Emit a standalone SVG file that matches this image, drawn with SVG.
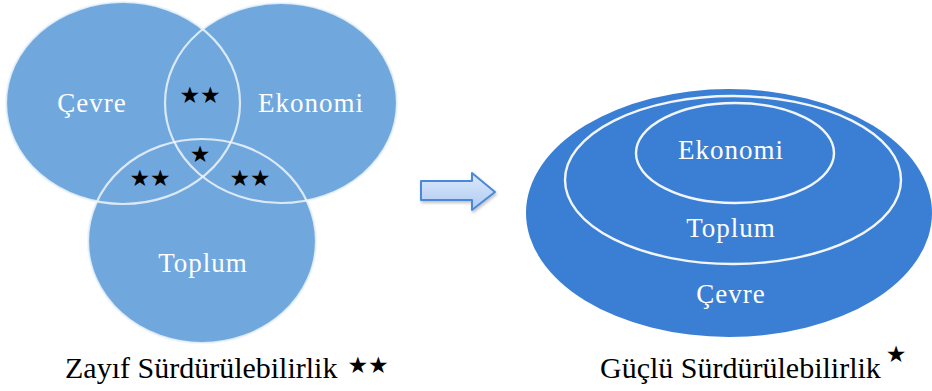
<svg xmlns="http://www.w3.org/2000/svg" width="932" height="391" viewBox="0 0 932 391">
  <defs>
    <linearGradient id="arrowFill" x1="0" y1="0" x2="0" y2="1">
      <stop offset="0" stop-color="#dce8fb"/>
      <stop offset="1" stop-color="#aecbf2"/>
    </linearGradient>
    <filter id="soft" x="-10%" y="-10%" width="120%" height="120%">
      <feGaussianBlur stdDeviation="0.6"/>
    </filter>
    <filter id="shadow" x="-20%" y="-20%" width="140%" height="160%">
      <feDropShadow dx="1" dy="2" stdDeviation="1.5" flood-color="#000" flood-opacity="0.25"/>
    </filter>
  </defs>
  <style>
    .venn { fill: #6fa8dd; }
    .ring { fill: none; stroke: #eef4fb; stroke-width: 2.2; stroke-opacity: 0.85; }
    .nest { fill: #3a7fd5; }
    .nestRing { fill: none; stroke: #f2f6fc; stroke-width: 2.4; }
    .lbl { font-family: "Liberation Serif", serif; font-size: 27px; fill: #ffffff; letter-spacing: 1px; text-anchor: middle; }
    .star { font-family: "DejaVu Sans", sans-serif; font-size: 23px; fill: #000000; text-anchor: middle; }
    .caption { font-family: "Liberation Serif", serif; font-size: 30px; fill: #000000; }
  </style>
  <rect width="932" height="391" fill="#ffffff"/>

  <!-- Weak sustainability: three overlapping circles -->
  <g id="weak-venn" filter="url(#soft)">
    <g id="cevre-circle">
      <ellipse class="venn" cx="123" cy="103" rx="117" ry="101"/>
    </g>
    <g id="ekonomi-circle">
      <ellipse class="venn" cx="281" cy="103" rx="116" ry="100"/>
    </g>
    <g id="toplum-circle">
      <ellipse class="venn" cx="202" cy="241" rx="114" ry="102"/>
    </g>
    <ellipse class="ring" cx="123" cy="103" rx="117" ry="101"/>
    <ellipse class="ring" cx="281" cy="103" rx="116" ry="100"/>
    <ellipse class="ring" cx="202" cy="241" rx="114" ry="102"/>
  </g>
  <g id="weak-labels">
    <text class="lbl" x="92" y="112">Çevre</text>
    <text class="lbl" x="311" y="112">Ekonomi</text>
    <text class="lbl" x="203" y="272">Toplum</text>
  </g>
  <g id="weak-stars">
    <text class="star" x="200" y="103">★★</text>
    <text class="star" x="200" y="162">★</text>
    <text class="star" x="150" y="186">★★</text>
    <text class="star" x="250" y="186">★★</text>
  </g>
  <g id="weak-caption">
    <text class="caption" x="65" y="378">Zayıf Sürdürülebilirlik</text>
    <text class="star" x="368" y="373" font-size="24">★★</text>
  </g>

  <!-- Transition arrow -->
  <g id="connectors">
    <path d="M421,181 L472,181 L472,173 L495,192 L472,210 L472,200 L421,200 Z" fill="url(#arrowFill)" stroke="#4a88db" stroke-width="2" stroke-linejoin="round" filter="url(#shadow)"/>
  </g>

  <!-- Strong sustainability: nested ellipses -->
  <g id="strong-nested" filter="url(#soft)">
    <g id="cevre-outer">
      <ellipse class="nest" cx="729" cy="213" rx="203" ry="124"/>
    </g>
    <g id="toplum-middle">
      <ellipse class="nestRing" cx="733" cy="180" rx="168" ry="84"/>
    </g>
    <g id="ekonomi-inner">
      <ellipse class="nestRing" cx="735" cy="153" rx="99" ry="50"/>
    </g>
  </g>
  <g id="strong-labels">
    <text class="lbl" x="731" y="159">Ekonomi</text>
    <text class="lbl" x="731" y="237">Toplum</text>
    <text class="lbl" x="731" y="303">Çevre</text>
  </g>
  <g id="strong-caption">
    <text class="caption" x="600" y="378">Güçlü Sürdürülebilirlik</text>
    <text class="star" x="896" y="362" font-size="22">★</text>
  </g>
</svg>
